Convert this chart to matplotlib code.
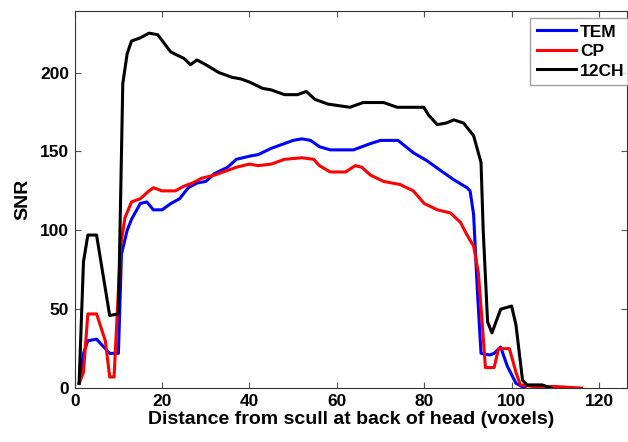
import numpy as np
import matplotlib
matplotlib.use("Agg")
import matplotlib.pyplot as plt

plt.rcParams['font.family'] = ['Liberation Sans', 'DejaVu Sans']
plt.rcParams['font.weight'] = 'bold'

# TEM (blue)
tem_x = [1, 2, 3, 5, 6, 8, 10, 10.7, 12, 13, 15, 16.5, 18, 20, 22, 24, 26, 28, 30, 32, 35, 37,
         40, 42, 45, 48, 50, 52, 54, 56, 58.5, 63.8, 67.7, 70, 74, 77.6, 80.7, 83.7, 86.8, 89.8,
         90.5, 91.3, 92.2, 93, 95, 96, 97.5, 99, 101, 103]
tem_y = [3, 22, 30, 31, 28, 22, 22, 85, 100, 107, 117, 118, 113, 113, 117, 120, 127, 130, 131, 136, 140, 145,
         147, 148, 152, 155, 157, 158, 157, 153, 151, 151, 155, 157, 157, 149, 144, 138, 132, 127,
         125, 110, 60, 22, 21, 22, 26, 14, 3, 0]

# CP (red)
cp_x = [1, 2, 3, 5, 7, 8, 9, 10.5, 11.5, 13, 15, 17, 18, 20, 23, 25, 27, 29, 32, 35, 37,
        40, 42, 45, 48, 52, 54.7, 56, 58.5, 62, 64.2, 65.7, 67.7, 70.7, 74.5, 77.5, 80, 83, 86,
        88.3, 89.8, 91.3, 92.4, 93.3, 94, 96, 97, 99.5, 101, 102, 105, 110, 116]
cp_y = [3, 10, 47, 47, 30, 7, 7, 90, 108, 118, 120, 125, 127, 125, 125, 128, 130, 133, 135, 138, 140,
        142, 141, 142, 145, 146, 145, 141, 137, 137, 141, 140, 135, 131, 129, 125, 117, 113, 111,
        105, 97, 90, 73, 40, 13, 13, 25, 25, 10, 2, 1, 1, 0]

# 12CH (black)
ch_x = [1, 2, 3, 5, 8, 10, 11, 12, 13, 15, 17, 19, 22, 25, 26.5, 28, 30, 33, 36, 38, 40, 43, 45,
        48, 51, 53, 55, 58, 63, 66, 70.7, 73.8, 79.9, 81, 83, 85, 86.8, 89, 91.3, 93, 93.5,
        94.5, 95.5, 97.5, 100, 101, 102.5, 103.5, 107, 109]
ch_y = [3, 80, 97, 97, 46, 47, 193, 212, 220, 222, 225, 224, 213, 209, 205, 208, 205, 200, 197, 196, 194, 190, 189,
        186, 186, 188, 183, 180, 178, 181, 181, 178, 178, 173, 167, 168, 170, 168, 160, 143, 100,
        42, 35, 50, 52, 40, 5, 2, 2, 0]

fig = plt.figure(figsize=(6.28, 4.42), dpi=100)
ax = fig.add_axes([0.119, 0.122, 0.88, 0.853])

ax.plot(tem_x, tem_y, color='#0000ff', lw=2.2, label='TEM')
ax.plot(cp_x, cp_y, color='#ff0000', lw=2.2, label='CP')
ax.plot(ch_x, ch_y, color='black', lw=2.2, label='12CH')

ax.set_xlim(0, 126.5)
ax.set_ylim(0, 239)
ax.set_xticks([0, 20, 40, 60, 80, 100, 120])
ax.set_yticks([0, 50, 100, 150, 200])
ax.tick_params(direction='in', top=True, right=True, labelsize=12.5, length=4, color='#555555', pad=4)
for lab in ax.get_xticklabels() + ax.get_yticklabels():
    lab.set_fontweight('bold')
for sp in ax.spines.values():
    sp.set_color('#333333')

ax.set_xlabel('Distance from scull at back of head (voxels)', fontsize=14, fontweight='bold', labelpad=2)
ax.set_ylabel('SNR', fontsize=14, fontweight='bold', labelpad=6)

leg = ax.legend(loc='upper right', bbox_to_anchor=(1.012, 0.99), fontsize=12.5, frameon=True,
                fancybox=False, handlelength=2.3, handletextpad=0.2, borderpad=0.35,
                labelspacing=0.25, borderaxespad=0.2)
leg.get_frame().set_edgecolor('#888888')
leg.get_frame().set_linewidth(1.0)
for t in leg.get_texts():
    t.set_fontweight('bold')

fig.savefig('out.png', dpi=100)
